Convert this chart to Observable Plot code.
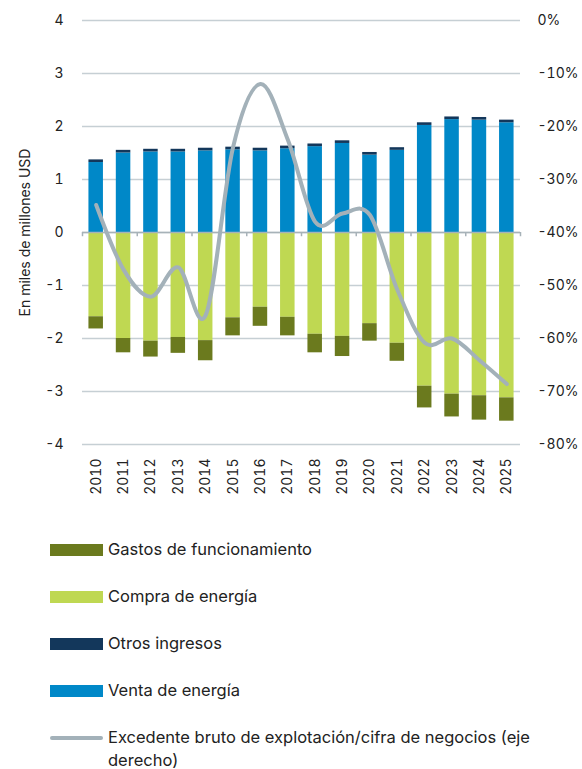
<!DOCTYPE html>
<html>
<head>
<meta charset="utf-8">
<script src="https://cdn.jsdelivr.net/npm/d3@7"></script>
<script src="https://cdn.jsdelivr.net/npm/@observablehq/plot@0.6"></script>
<style>
  body { margin: 0; background: #fff; font-family: Inter, "Open Sans", sans-serif; color: #222; }
  #chart { width: 582px; }
  .legend { padding-left: 50px; }
  .item { display: flex; align-items: flex-start; margin-bottom: 24px; font-size: 16.5px; line-height: 23px; }
  .sw { width: 53px; height: 12px; margin-top: 5.5px; margin-right: 5px; flex: none; }
  .ln { width: 53px; height: 4px; margin-top: 9.5px; margin-right: 5px; border-radius: 2px; flex: none; }
  .lbl { width: 445px; }
</style>
</head>
<body>
<div id="chart"></div>
<script>
const years = [2010,2011,2012,2013,2014,2015,2016,2017,2018,2019,2020,2021,2022,2023,2024,2025];
const ventaEnergia = [1.32,1.50,1.52,1.52,1.54,1.56,1.54,1.58,1.62,1.68,1.46,1.55,2.02,2.13,2.12,2.07];
const otrosIngresos = [0.05,0.05,0.05,0.05,0.05,0.05,0.05,0.05,0.05,0.05,0.05,0.05,0.05,0.05,0.05,0.05];
const compraEnergia = [1.59,2.00,2.05,1.98,2.04,1.61,1.41,1.60,1.92,1.96,1.72,2.09,2.90,3.05,3.08,3.12];
const gastosFuncionamiento = [0.23,0.27,0.30,0.30,0.38,0.34,0.36,0.35,0.35,0.38,0.33,0.34,0.41,0.43,0.46,0.44];
const excedentePct = [-34.8,-47.0,-52.1,-46.6,-55.6,-23.9,-12.0,-22.5,-38.0,-36.4,-36.7,-50.8,-60.8,-60.0,-64.1,-68.6];
const leftTicks = [4,3,2,1,0,-1,-2,-3,-4];
const rightTicks = [0,-10,-20,-30,-40,-50,-60,-70,-80];

const colors = {
  gastos: "#6b7a1e",
  compra: "#bfd852",
  otros: "#13375b",
  venta: "#0088c8",
  linea: "#a3b1b9"
};

// convert percent (right axis) to left units: 0% -> 4, -80% -> -4
const pctToLeft = p => 4 + p / 10;
const half = 0.265;

const rows = years.map((y, i) => ({
  year: y,
  venta: ventaEnergia[i],
  otros: otrosIngresos[i],
  compra: compraEnergia[i],
  gastos: gastosFuncionamiento[i],
  pct: excedentePct[i]
}));

const bounds = years.filter((y, i) => i % 2 === 0).map(y => y - 0.5).concat([years[years.length - 1] + 0.5]);

const chart = Plot.plot({
  width: 582,
  height: 500,
  marginTop: 20,
  marginBottom: 56,
  marginLeft: 82,
  marginRight: 62,
  style: { fontFamily: "Inter, 'Open Sans', sans-serif", fontSize: "14px", color: "#222" },
  x: { type: "linear", domain: [years[0] - 0.5, years[years.length - 1] + 0.5] },
  y: { domain: [-4, 4] },
  marks: [
    Plot.gridY(leftTicks, { stroke: "#c6cfd4", strokeOpacity: 1, strokeWidth: 1.3 }),
    Plot.rect(rows, { x1: d => d.year - half, x2: d => d.year + half, y1: 0, y2: d => d.venta, fill: colors.venta }),
    Plot.rect(rows, { x1: d => d.year - half, x2: d => d.year + half, y1: d => d.venta, y2: d => d.venta + d.otros, fill: colors.otros }),
    Plot.rect(rows, { x1: d => d.year - half, x2: d => d.year + half, y1: 0, y2: d => -d.compra, fill: colors.compra }),
    Plot.rect(rows, { x1: d => d.year - half, x2: d => d.year + half, y1: d => -d.compra, y2: d => -d.compra - d.gastos, fill: colors.gastos }),
    Plot.ruleY([0], { stroke: "#a7b2b8", strokeWidth: 1.5 }),
    Plot.ruleX(bounds, { x: d => d, y1: 0, y2: -0.08, stroke: "#a7b2b8", strokeWidth: 1.5 }),
    Plot.line(rows, { x: "year", y: d => pctToLeft(d.pct), stroke: colors.linea, strokeWidth: 4, curve: "cardinal", tension: 0, strokeLinecap: "round" }),
    Plot.axisY(leftTicks, { anchor: "left", tickSize: 0, tickPadding: 19, label: null, tickFormat: d => String(d) }),
    Plot.axisY(rightTicks.map(pctToLeft), { anchor: "right", tickSize: 0, tickPadding: 17, label: null, tickFormat: v => Math.round((v - 4) * 10) + "%" }),
    Plot.axisX(years, { anchor: "bottom", tickSize: 0, tickPadding: 14, tickRotate: -90, label: null, tickFormat: d => String(d) }),
    Plot.text(["En miles de millones USD"], { frameAnchor: "left", textAnchor: "middle", dx: -57, rotate: -90, fontSize: 14, fill: "#222" })
  ]
});

document.getElementById("chart").appendChild(chart);

const legendItems = [
  { label: "Gastos de funcionamiento", color: colors.gastos, type: "sw" },
  { label: "Compra de energía", color: colors.compra, type: "sw" },
  { label: "Otros ingresos", color: colors.otros, type: "sw" },
  { label: "Venta de energía", color: colors.venta, type: "sw" },
  { label: "Excedente bruto de explotación/cifra de negocios (eje derecho)", color: colors.linea, type: "ln" }
];
const legend = document.createElement("div");
legend.className = "legend";
legend.style.marginTop = "38px";
for (const it of legendItems) {
  const row = document.createElement("div");
  row.className = "item";
  const sw = document.createElement("div");
  sw.className = it.type;
  sw.style.background = it.color;
  const lb = document.createElement("div");
  lb.className = "lbl";
  lb.textContent = it.label;
  row.appendChild(sw);
  row.appendChild(lb);
  legend.appendChild(row);
}
document.getElementById("chart").appendChild(legend);
</script>
</body>
</html>
